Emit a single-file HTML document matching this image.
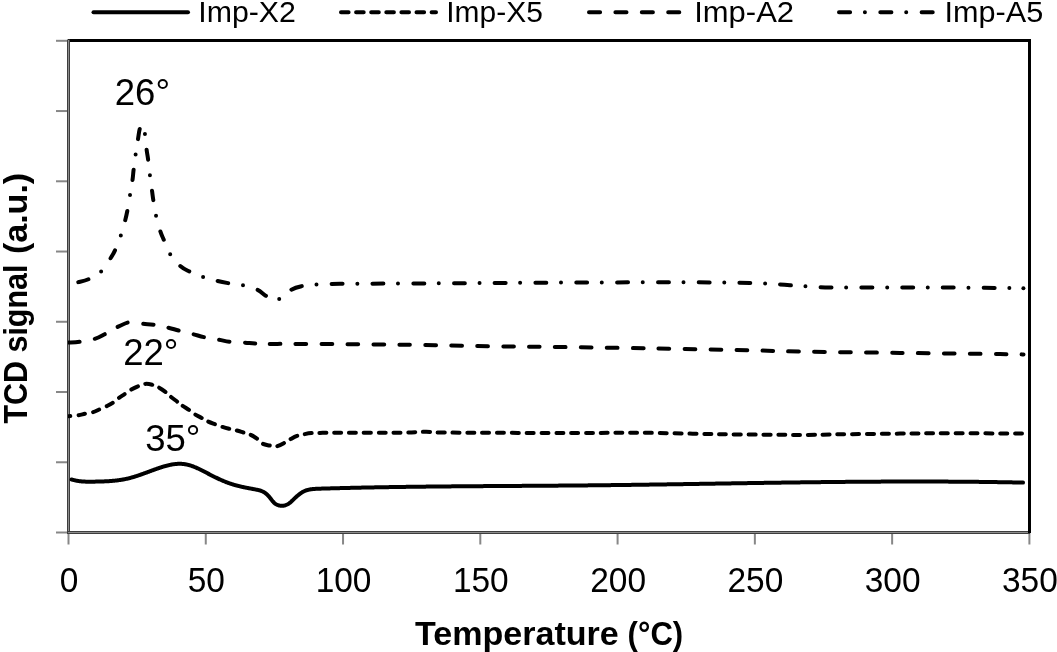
<!DOCTYPE html>
<html><head><meta charset="utf-8"><title>TCD chart</title>
<style>html,body{margin:0;padding:0;background:#fff;overflow:hidden;}svg{display:block;will-change:transform;}text{font-family:"Liberation Sans",sans-serif;fill:#000;}</style>
</head><body>
<svg width="1057" height="652" viewBox="0 0 1057 652">
<rect width="1057" height="652" fill="#fff"/>
<rect x="56" y="531.50" width="11.5" height="2" fill="#878787"/>
<rect x="56" y="461.26" width="11.5" height="2" fill="#878787"/>
<rect x="56" y="391.01" width="11.5" height="2" fill="#878787"/>
<rect x="56" y="320.77" width="11.5" height="2" fill="#878787"/>
<rect x="56" y="250.53" width="11.5" height="2" fill="#878787"/>
<rect x="56" y="180.29" width="11.5" height="2" fill="#878787"/>
<rect x="56" y="110.04" width="11.5" height="2" fill="#878787"/>
<rect x="56" y="39.80" width="11.5" height="2" fill="#878787"/>
<rect x="67.50" y="533" width="2" height="11.5" fill="#878787"/>
<rect x="204.77" y="533" width="2" height="11.5" fill="#878787"/>
<rect x="342.04" y="533" width="2" height="11.5" fill="#878787"/>
<rect x="479.31" y="533" width="2" height="11.5" fill="#878787"/>
<rect x="616.59" y="533" width="2" height="11.5" fill="#878787"/>
<rect x="753.86" y="533" width="2" height="11.5" fill="#878787"/>
<rect x="891.13" y="533" width="2" height="11.5" fill="#878787"/>
<rect x="1028.40" y="533" width="2" height="11.5" fill="#878787"/>
<rect x="68" y="39" width="963" height="3" fill="#000"/>
<rect x="67" y="39.5" width="3" height="494.5" fill="#3e3e3e"/>
<rect x="68" y="40" width="1" height="493" fill="#8c8c8c"/>
<rect x="67" y="531" width="963" height="3" fill="#3e3e3e"/>
<rect x="68" y="532" width="962" height="1" fill="#8c8c8c"/>
<rect x="1028" y="39" width="3" height="494" fill="#000"/>
<defs><clipPath id="pa"><rect x="68" y="40" width="961" height="492"/></clipPath></defs><g clip-path="url(#pa)">
<path id="X2" d="M71.60,479.48 L72.10,479.63 L72.60,479.78 L73.10,479.91 L73.60,480.05 L74.10,480.17 L74.60,480.29 L75.10,480.41 L75.60,480.51 L76.10,480.62 L76.60,480.71 L77.10,480.80 L77.60,480.89 L78.10,480.97 L78.60,481.04 L79.10,481.11 L79.60,481.18 L80.10,481.24 L80.60,481.30 L81.10,481.35 L81.60,481.40 L82.10,481.44 L82.60,481.48 L83.10,481.51 L83.60,481.55 L84.10,481.58 L84.60,481.60 L85.10,481.62 L85.60,481.64 L86.10,481.66 L86.60,481.67 L87.10,481.69 L87.60,481.69 L88.10,481.70 L88.60,481.71 L89.10,481.71 L89.60,481.71 L90.10,481.71 L90.60,481.70 L91.10,481.70 L91.60,481.70 L92.10,481.69 L92.60,481.68 L93.10,481.67 L93.60,481.66 L94.10,481.65 L94.60,481.64 L95.10,481.63 L95.60,481.62 L96.10,481.61 L96.60,481.60 L97.10,481.59 L97.60,481.58 L98.10,481.57 L98.60,481.56 L99.10,481.54 L99.60,481.53 L100.10,481.52 L100.60,481.50 L101.10,481.49 L101.60,481.47 L102.10,481.46 L102.60,481.44 L103.10,481.42 L103.60,481.40 L104.10,481.38 L104.60,481.36 L105.10,481.34 L105.60,481.32 L106.10,481.29 L106.60,481.27 L107.10,481.24 L107.60,481.22 L108.10,481.19 L108.60,481.16 L109.10,481.13 L109.60,481.09 L110.10,481.06 L110.60,481.02 L111.10,480.99 L111.60,480.95 L112.10,480.91 L112.60,480.86 L113.10,480.82 L113.60,480.77 L114.10,480.73 L114.60,480.68 L115.10,480.62 L115.60,480.57 L116.10,480.52 L116.60,480.46 L117.10,480.40 L117.60,480.34 L118.10,480.27 L118.60,480.21 L119.10,480.14 L119.60,480.07 L120.10,479.99 L120.60,479.92 L121.10,479.84 L121.60,479.76 L122.10,479.67 L122.60,479.59 L123.10,479.50 L123.60,479.41 L124.10,479.31 L124.60,479.22 L125.10,479.12 L125.60,479.01 L126.10,478.91 L126.60,478.80 L127.10,478.69 L127.60,478.57 L128.10,478.46 L128.60,478.34 L129.10,478.21 L129.60,478.08 L130.10,477.95 L130.60,477.82 L131.10,477.68 L131.60,477.55 L132.10,477.41 L132.60,477.26 L133.10,477.12 L133.60,476.97 L134.10,476.82 L134.60,476.66 L135.10,476.51 L135.60,476.35 L136.10,476.19 L136.60,476.03 L137.10,475.87 L137.60,475.70 L138.10,475.53 L138.60,475.37 L139.10,475.20 L139.60,475.02 L140.10,474.85 L140.60,474.68 L141.10,474.50 L141.60,474.32 L142.10,474.15 L142.60,473.97 L143.10,473.79 L143.60,473.61 L144.10,473.43 L144.60,473.24 L145.10,473.06 L145.60,472.88 L146.10,472.69 L146.60,472.51 L147.10,472.32 L147.60,472.14 L148.10,471.95 L148.60,471.77 L149.10,471.58 L149.60,471.40 L150.10,471.21 L150.60,471.03 L151.10,470.84 L151.60,470.66 L152.10,470.48 L152.60,470.29 L153.10,470.11 L153.60,469.93 L154.10,469.75 L154.60,469.57 L155.10,469.39 L155.60,469.21 L156.10,469.03 L156.60,468.85 L157.10,468.68 L157.60,468.50 L158.10,468.33 L158.60,468.16 L159.10,467.99 L159.60,467.82 L160.10,467.65 L160.60,467.49 L161.10,467.32 L161.60,467.16 L162.10,467.01 L162.60,466.85 L163.10,466.69 L163.60,466.54 L164.10,466.40 L164.60,466.25 L165.10,466.11 L165.60,465.97 L166.10,465.83 L166.60,465.70 L167.10,465.57 L167.60,465.44 L168.10,465.32 L168.60,465.20 L169.10,465.08 L169.60,464.97 L170.10,464.87 L170.60,464.77 L171.10,464.67 L171.60,464.57 L172.10,464.49 L172.60,464.40 L173.10,464.32 L173.60,464.25 L174.10,464.18 L174.60,464.12 L175.10,464.06 L175.60,464.01 L176.10,463.96 L176.60,463.92 L177.10,463.89 L177.60,463.86 L178.10,463.83 L178.60,463.82 L179.10,463.81 L179.60,463.80 L180.10,463.81 L180.60,463.82 L181.10,463.83 L181.60,463.86 L182.10,463.89 L182.60,463.93 L183.10,463.97 L183.60,464.03 L184.10,464.09 L184.60,464.16 L185.10,464.23 L185.60,464.32 L186.10,464.41 L186.60,464.51 L187.10,464.62 L187.60,464.73 L188.10,464.85 L188.60,464.98 L189.10,465.12 L189.60,465.26 L190.10,465.41 L190.60,465.56 L191.10,465.73 L191.60,465.89 L192.10,466.07 L192.60,466.24 L193.10,466.43 L193.60,466.62 L194.10,466.81 L194.60,467.01 L195.10,467.22 L195.60,467.43 L196.10,467.64 L196.60,467.86 L197.10,468.08 L197.60,468.31 L198.10,468.54 L198.60,468.77 L199.10,469.01 L199.60,469.25 L200.10,469.49 L200.60,469.74 L201.10,469.99 L201.60,470.24 L202.10,470.49 L202.60,470.74 L203.10,471.00 L203.60,471.26 L204.10,471.52 L204.60,471.78 L205.10,472.04 L205.60,472.30 L206.10,472.57 L206.60,472.83 L207.10,473.09 L207.60,473.36 L208.10,473.62 L208.60,473.88 L209.10,474.14 L209.60,474.40 L210.10,474.66 L210.60,474.92 L211.10,475.18 L211.60,475.44 L212.10,475.69 L212.60,475.94 L213.10,476.20 L213.60,476.45 L214.10,476.70 L214.60,476.94 L215.10,477.19 L215.60,477.43 L216.10,477.67 L216.60,477.91 L217.10,478.15 L217.60,478.39 L218.10,478.62 L218.60,478.86 L219.10,479.09 L219.60,479.32 L220.10,479.54 L220.60,479.77 L221.10,479.99 L221.60,480.21 L222.10,480.43 L222.60,480.64 L223.10,480.85 L223.60,481.06 L224.10,481.27 L224.60,481.48 L225.10,481.68 L225.60,481.88 L226.10,482.08 L226.60,482.27 L227.10,482.47 L227.60,482.66 L228.10,482.84 L228.60,483.03 L229.10,483.21 L229.60,483.38 L230.10,483.56 L230.60,483.73 L231.10,483.90 L231.60,484.06 L232.10,484.23 L232.60,484.39 L233.10,484.54 L233.60,484.69 L234.10,484.84 L234.60,484.99 L235.10,485.13 L235.60,485.27 L236.10,485.41 L236.60,485.54 L237.10,485.68 L237.60,485.81 L238.10,485.93 L238.60,486.06 L239.10,486.18 L239.60,486.30 L240.10,486.42 L240.60,486.53 L241.10,486.65 L241.60,486.76 L242.10,486.87 L242.60,486.98 L243.10,487.08 L243.60,487.19 L244.10,487.29 L244.60,487.39 L245.10,487.50 L245.60,487.60 L246.10,487.69 L246.60,487.79 L247.10,487.89 L247.60,487.99 L248.10,488.08 L248.60,488.18 L249.10,488.27 L249.60,488.36 L250.10,488.46 L250.60,488.55 L251.10,488.64 L251.60,488.74 L252.10,488.83 L252.60,488.92 L253.10,489.02 L253.60,489.11 L254.10,489.20 L254.60,489.30 L255.10,489.39 L255.60,489.49 L256.10,489.59 L256.60,489.68 L257.10,489.79 L257.60,489.89 L258.10,490.00 L258.60,490.12 L259.10,490.25 L259.60,490.39 L260.10,490.54 L260.60,490.70 L261.10,490.88 L261.60,491.07 L262.10,491.28 L262.60,491.51 L263.10,491.75 L263.60,492.02 L264.10,492.31 L264.60,492.62 L265.10,492.95 L265.60,493.31 L266.10,493.70 L266.60,494.12 L267.10,494.57 L267.60,495.05 L268.10,495.56 L268.60,496.10 L269.10,496.68 L269.60,497.29 L270.10,497.93 L270.60,498.57 L271.10,499.22 L271.60,499.87 L272.10,500.51 L272.60,501.12 L273.10,501.70 L273.60,502.25 L274.10,502.75 L274.60,503.20 L275.10,503.60 L275.60,503.95 L276.10,504.26 L276.60,504.53 L277.10,504.77 L277.60,504.97 L278.10,505.15 L278.60,505.31 L279.10,505.45 L279.60,505.56 L280.10,505.65 L280.60,505.72 L281.10,505.76 L281.60,505.78 L282.10,505.79 L282.60,505.76 L283.10,505.72 L283.60,505.65 L284.10,505.57 L284.60,505.46 L285.10,505.32 L285.60,505.16 L286.10,504.98 L286.60,504.77 L287.10,504.54 L287.60,504.28 L288.10,504.00 L288.60,503.69 L289.10,503.35 L289.60,502.99 L290.10,502.60 L290.60,502.18 L291.10,501.74 L291.60,501.28 L292.10,500.81 L292.60,500.33 L293.10,499.84 L293.60,499.35 L294.10,498.86 L294.60,498.38 L295.10,497.90 L295.60,497.43 L296.10,496.98 L296.60,496.53 L297.10,496.09 L297.60,495.66 L298.10,495.24 L298.60,494.84 L299.10,494.44 L299.60,494.06 L300.10,493.69 L300.60,493.33 L301.10,492.99 L301.60,492.67 L302.10,492.35 L302.60,492.06 L303.10,491.77 L303.60,491.51 L304.10,491.26 L304.60,491.03 L305.10,490.82 L305.60,490.62 L306.10,490.43 L306.60,490.26 L307.10,490.11 L307.60,489.96 L308.10,489.83 L308.60,489.71 L309.10,489.60 L309.60,489.50 L310.10,489.41 L310.60,489.33 L311.10,489.26 L311.60,489.19 L312.10,489.14 L312.60,489.08 L313.10,489.04 L313.60,488.99 L314.10,488.96 L314.60,488.92 L315.10,488.89 L315.60,488.86 L316.10,488.83 L316.60,488.81 L317.10,488.78 L317.60,488.76 L318.10,488.74 L318.60,488.72 L319.10,488.70 L319.60,488.68 L320.10,488.67 L320.60,488.65 L321.10,488.63 L321.60,488.62 L322.10,488.60 L322.60,488.59 L323.10,488.58 L323.60,488.56 L324.10,488.55 L324.60,488.53 L325.10,488.52 L325.60,488.50 L326.10,488.49 L326.60,488.48 L327.10,488.46 L327.60,488.45 L328.10,488.43 L328.60,488.42 L329.10,488.41 L329.60,488.39 L330.10,488.38 L330.60,488.36 L331.10,488.35 L331.60,488.34 L332.10,488.32 L332.60,488.31 L333.10,488.30 L333.60,488.28 L334.10,488.27 L334.60,488.26 L335.10,488.24 L335.60,488.23 L336.10,488.22 L336.60,488.21 L337.10,488.19 L337.60,488.18 L338.10,488.17 L338.60,488.15 L339.10,488.14 L339.60,488.13 L340.10,488.12 L340.60,488.10 L341.10,488.09 L341.60,488.08 L342.10,488.07 L342.60,488.05 L343.10,488.04 L343.60,488.03 L344.10,488.02 L344.60,488.01 L345.10,487.99 L345.60,487.98 L346.10,487.97 L346.60,487.96 L347.10,487.95 L347.60,487.93 L348.10,487.92 L348.60,487.91 L349.10,487.90 L349.60,487.89 L350.10,487.88 L350.60,487.86 L351.10,487.85 L351.60,487.84 L352.10,487.83 L352.60,487.82 L353.10,487.81 L353.60,487.80 L354.10,487.79 L354.60,487.77 L355.10,487.76 L355.60,487.75 L356.10,487.74 L356.60,487.73 L357.10,487.72 L357.60,487.71 L358.10,487.70 L358.60,487.69 L359.10,487.68 L359.60,487.67 L360.10,487.66 L360.60,487.65 L361.10,487.64 L361.60,487.62 L362.10,487.61 L362.60,487.60 L363.10,487.59 L363.60,487.58 L364.10,487.57 L364.60,487.56 L365.10,487.55 L365.60,487.54 L366.10,487.53 L366.60,487.52 L367.10,487.51 L367.60,487.50 L368.10,487.49 L368.60,487.48 L369.10,487.47 L369.60,487.46 L370.10,487.46 L370.60,487.45 L371.10,487.44 L371.60,487.43 L372.10,487.42 L372.60,487.41 L373.10,487.40 L373.60,487.39 L374.10,487.38 L374.60,487.37 L375.10,487.36 L375.60,487.35 L376.10,487.34 L376.60,487.33 L377.10,487.33 L377.60,487.32 L378.10,487.31 L378.60,487.30 L379.10,487.29 L379.60,487.28 L380.10,487.27 L380.60,487.26 L381.10,487.25 L381.60,487.25 L382.10,487.24 L382.60,487.23 L383.10,487.22 L383.60,487.21 L384.10,487.20 L384.60,487.20 L385.10,487.19 L385.60,487.18 L386.10,487.17 L386.60,487.16 L387.10,487.15 L387.60,487.15 L388.10,487.14 L388.60,487.13 L389.10,487.12 L389.60,487.11 L390.10,487.11 L390.60,487.10 L391.10,487.09 L391.60,487.08 L392.10,487.07 L392.60,487.07 L393.10,487.06 L393.60,487.05 L394.10,487.04 L394.60,487.04 L395.10,487.03 L395.60,487.02 L396.10,487.01 L396.60,487.01 L397.10,487.00 L397.60,486.99 L398.10,486.98 L398.60,486.98 L399.10,486.97 L399.60,486.96 L400.10,486.95 L400.60,486.95 L401.10,486.94 L401.60,486.93 L402.10,486.93 L402.60,486.92 L403.10,486.91 L403.60,486.90 L404.10,486.90 L404.60,486.89 L405.10,486.88 L405.60,486.88 L406.10,486.87 L406.60,486.86 L407.10,486.86 L407.60,486.85 L408.10,486.84 L408.60,486.84 L409.10,486.83 L409.60,486.82 L410.10,486.82 L410.60,486.81 L411.10,486.80 L411.60,486.80 L412.10,486.79 L412.60,486.79 L413.10,486.78 L413.60,486.77 L414.10,486.77 L414.60,486.76 L415.10,486.75 L415.60,486.75 L416.10,486.74 L416.60,486.74 L417.10,486.73 L417.60,486.72 L418.10,486.72 L418.60,486.71 L419.10,486.71 L419.60,486.70 L420.10,486.69 L420.60,486.69 L421.10,486.68 L421.60,486.68 L422.10,486.67 L422.60,486.66 L423.10,486.66 L423.60,486.65 L424.10,486.65 L424.60,486.64 L425.10,486.64 L425.60,486.63 L426.10,486.62 L426.60,486.62 L427.10,486.61 L427.60,486.61 L428.10,486.60 L428.60,486.60 L429.10,486.59 L429.60,486.59 L430.10,486.58 L430.60,486.58 L431.10,486.57 L431.60,486.56 L432.10,486.56 L432.60,486.55 L433.10,486.55 L433.60,486.54 L434.10,486.54 L434.60,486.53 L435.10,486.53 L435.60,486.52 L436.10,486.52 L436.60,486.51 L437.10,486.51 L437.60,486.50 L438.10,486.50 L438.60,486.49 L439.10,486.49 L439.60,486.48 L440.10,486.48 L440.60,486.47 L441.10,486.47 L441.60,486.46 L442.10,486.46 L442.60,486.45 L443.10,486.45 L443.60,486.44 L444.10,486.44 L444.60,486.44 L445.10,486.43 L445.60,486.43 L446.10,486.42 L446.60,486.42 L447.10,486.41 L447.60,486.41 L448.10,486.40 L448.60,486.40 L449.10,486.39 L449.60,486.39 L450.10,486.39 L450.60,486.38 L451.10,486.38 L451.60,486.37 L452.10,486.37 L452.60,486.36 L453.10,486.36 L453.60,486.35 L454.10,486.35 L454.60,486.35 L455.10,486.34 L455.60,486.34 L456.10,486.33 L456.60,486.33 L457.10,486.33 L457.60,486.32 L458.10,486.32 L458.60,486.31 L459.10,486.31 L459.60,486.30 L460.10,486.30 L460.60,486.30 L461.10,486.29 L461.60,486.29 L462.10,486.28 L462.60,486.28 L463.10,486.28 L463.60,486.27 L464.10,486.27 L464.60,486.26 L465.10,486.26 L465.60,486.26 L466.10,486.25 L466.60,486.25 L467.10,486.24 L467.60,486.24 L468.10,486.24 L468.60,486.23 L469.10,486.23 L469.60,486.23 L470.10,486.22 L470.60,486.22 L471.10,486.21 L471.60,486.21 L472.10,486.21 L472.60,486.20 L473.10,486.20 L473.60,486.20 L474.10,486.19 L474.60,486.19 L475.10,486.19 L475.60,486.18 L476.10,486.18 L476.60,486.17 L477.10,486.17 L477.60,486.17 L478.10,486.16 L478.60,486.16 L479.10,486.16 L479.60,486.15 L480.10,486.15 L480.60,486.15 L481.10,486.14 L481.60,486.14 L482.10,486.14 L482.60,486.13 L483.10,486.13 L483.60,486.12 L484.10,486.12 L484.60,486.12 L485.10,486.11 L485.60,486.11 L486.10,486.11 L486.60,486.10 L487.10,486.10 L487.60,486.10 L488.10,486.09 L488.60,486.09 L489.10,486.09 L489.60,486.08 L490.10,486.08 L490.60,486.08 L491.10,486.07 L491.60,486.07 L492.10,486.07 L492.60,486.06 L493.10,486.06 L493.60,486.06 L494.10,486.05 L494.60,486.05 L495.10,486.05 L495.60,486.04 L496.10,486.04 L496.60,486.04 L497.10,486.03 L497.60,486.03 L498.10,486.03 L498.60,486.02 L499.10,486.02 L499.60,486.02 L500.10,486.01 L500.60,486.01 L501.10,486.01 L501.60,486.01 L502.10,486.00 L502.60,486.00 L503.10,486.00 L503.60,485.99 L504.10,485.99 L504.60,485.99 L505.10,485.98 L505.60,485.98 L506.10,485.98 L506.60,485.97 L507.10,485.97 L507.60,485.97 L508.10,485.96 L508.60,485.96 L509.10,485.96 L509.60,485.95 L510.10,485.95 L510.60,485.95 L511.10,485.94 L511.60,485.94 L512.10,485.94 L512.60,485.93 L513.10,485.93 L513.60,485.93 L514.10,485.93 L514.60,485.92 L515.10,485.92 L515.60,485.92 L516.10,485.91 L516.60,485.91 L517.10,485.91 L517.60,485.90 L518.10,485.90 L518.60,485.90 L519.10,485.89 L519.60,485.89 L520.10,485.89 L520.60,485.88 L521.10,485.88 L521.60,485.88 L522.10,485.87 L522.60,485.87 L523.10,485.87 L523.60,485.86 L524.10,485.86 L524.60,485.86 L525.10,485.86 L525.60,485.85 L526.10,485.85 L526.60,485.85 L527.10,485.84 L527.60,485.84 L528.10,485.84 L528.60,485.83 L529.10,485.83 L529.60,485.83 L530.10,485.82 L530.60,485.82 L531.10,485.82 L531.60,485.81 L532.10,485.81 L532.60,485.81 L533.10,485.80 L533.60,485.80 L534.10,485.80 L534.60,485.79 L535.10,485.79 L535.60,485.79 L536.10,485.78 L536.60,485.78 L537.10,485.78 L537.60,485.77 L538.10,485.77 L538.60,485.77 L539.10,485.76 L539.60,485.76 L540.10,485.76 L540.60,485.75 L541.10,485.75 L541.60,485.75 L542.10,485.74 L542.60,485.74 L543.10,485.74 L543.60,485.73 L544.10,485.73 L544.60,485.73 L545.10,485.72 L545.60,485.72 L546.10,485.72 L546.60,485.71 L547.10,485.71 L547.60,485.71 L548.10,485.70 L548.60,485.70 L549.10,485.69 L549.60,485.69 L550.10,485.69 L550.60,485.68 L551.10,485.68 L551.60,485.68 L552.10,485.67 L552.60,485.67 L553.10,485.67 L553.60,485.66 L554.10,485.66 L554.60,485.65 L555.10,485.65 L555.60,485.65 L556.10,485.64 L556.60,485.64 L557.10,485.64 L557.60,485.63 L558.10,485.63 L558.60,485.62 L559.10,485.62 L559.60,485.62 L560.10,485.61 L560.60,485.61 L561.10,485.61 L561.60,485.60 L562.10,485.60 L562.60,485.59 L563.10,485.59 L563.60,485.59 L564.10,485.58 L564.60,485.58 L565.10,485.57 L565.60,485.57 L566.10,485.57 L566.60,485.56 L567.10,485.56 L567.60,485.55 L568.10,485.55 L568.60,485.55 L569.10,485.54 L569.60,485.54 L570.10,485.53 L570.60,485.53 L571.10,485.53 L571.60,485.52 L572.10,485.52 L572.60,485.51 L573.10,485.51 L573.60,485.50 L574.10,485.50 L574.60,485.50 L575.10,485.49 L575.60,485.49 L576.10,485.48 L576.60,485.48 L577.10,485.47 L577.60,485.47 L578.10,485.47 L578.60,485.46 L579.10,485.46 L579.60,485.45 L580.10,485.45 L580.60,485.44 L581.10,485.44 L581.60,485.43 L582.10,485.43 L582.60,485.42 L583.10,485.42 L583.60,485.41 L584.10,485.41 L584.60,485.41 L585.10,485.40 L585.60,485.40 L586.10,485.39 L586.60,485.39 L587.10,485.38 L587.60,485.38 L588.10,485.37 L588.60,485.37 L589.10,485.36 L589.60,485.36 L590.10,485.35 L590.60,485.35 L591.10,485.34 L591.60,485.34 L592.10,485.33 L592.60,485.33 L593.10,485.32 L593.60,485.32 L594.10,485.31 L594.60,485.31 L595.10,485.30 L595.60,485.30 L596.10,485.29 L596.60,485.29 L597.10,485.28 L597.60,485.28 L598.10,485.27 L598.60,485.26 L599.10,485.26 L599.60,485.25 L600.10,485.25 L600.60,485.24 L601.10,485.24 L601.60,485.23 L602.10,485.23 L602.60,485.22 L603.10,485.22 L603.60,485.21 L604.10,485.20 L604.60,485.20 L605.10,485.19 L605.60,485.19 L606.10,485.18 L606.60,485.18 L607.10,485.17 L607.60,485.16 L608.10,485.16 L608.60,485.15 L609.10,485.15 L609.60,485.14 L610.10,485.14 L610.60,485.13 L611.10,485.12 L611.60,485.12 L612.10,485.11 L612.60,485.11 L613.10,485.10 L613.60,485.09 L614.10,485.09 L614.60,485.08 L615.10,485.08 L615.60,485.07 L616.10,485.06 L616.60,485.06 L617.10,485.05 L617.60,485.05 L618.10,485.04 L618.60,485.03 L619.10,485.03 L619.60,485.02 L620.10,485.02 L620.60,485.01 L621.10,485.00 L621.60,485.00 L622.10,484.99 L622.60,484.98 L623.10,484.98 L623.60,484.97 L624.10,484.97 L624.60,484.96 L625.10,484.95 L625.60,484.95 L626.10,484.94 L626.60,484.93 L627.10,484.93 L627.60,484.92 L628.10,484.91 L628.60,484.91 L629.10,484.90 L629.60,484.89 L630.10,484.89 L630.60,484.88 L631.10,484.88 L631.60,484.87 L632.10,484.86 L632.60,484.86 L633.10,484.85 L633.60,484.84 L634.10,484.84 L634.60,484.83 L635.10,484.82 L635.60,484.82 L636.10,484.81 L636.60,484.80 L637.10,484.80 L637.60,484.79 L638.10,484.78 L638.60,484.78 L639.10,484.77 L639.60,484.76 L640.10,484.75 L640.60,484.75 L641.10,484.74 L641.60,484.73 L642.10,484.73 L642.60,484.72 L643.10,484.71 L643.60,484.71 L644.10,484.70 L644.60,484.69 L645.10,484.69 L645.60,484.68 L646.10,484.67 L646.60,484.66 L647.10,484.66 L647.60,484.65 L648.10,484.64 L648.60,484.64 L649.10,484.63 L649.60,484.62 L650.10,484.62 L650.60,484.61 L651.10,484.60 L651.60,484.59 L652.10,484.59 L652.60,484.58 L653.10,484.57 L653.60,484.57 L654.10,484.56 L654.60,484.55 L655.10,484.54 L655.60,484.54 L656.10,484.53 L656.60,484.52 L657.10,484.51 L657.60,484.51 L658.10,484.50 L658.60,484.49 L659.10,484.49 L659.60,484.48 L660.10,484.47 L660.60,484.46 L661.10,484.46 L661.60,484.45 L662.10,484.44 L662.60,484.43 L663.10,484.43 L663.60,484.42 L664.10,484.41 L664.60,484.40 L665.10,484.40 L665.60,484.39 L666.10,484.38 L666.60,484.38 L667.10,484.37 L667.60,484.36 L668.10,484.35 L668.60,484.35 L669.10,484.34 L669.60,484.33 L670.10,484.32 L670.60,484.32 L671.10,484.31 L671.60,484.30 L672.10,484.29 L672.60,484.29 L673.10,484.28 L673.60,484.27 L674.10,484.26 L674.60,484.26 L675.10,484.25 L675.60,484.24 L676.10,484.23 L676.60,484.22 L677.10,484.22 L677.60,484.21 L678.10,484.20 L678.60,484.19 L679.10,484.19 L679.60,484.18 L680.10,484.17 L680.60,484.16 L681.10,484.16 L681.60,484.15 L682.10,484.14 L682.60,484.13 L683.10,484.13 L683.60,484.12 L684.10,484.11 L684.60,484.10 L685.10,484.09 L685.60,484.09 L686.10,484.08 L686.60,484.07 L687.10,484.06 L687.60,484.06 L688.10,484.05 L688.60,484.04 L689.10,484.03 L689.60,484.03 L690.10,484.02 L690.60,484.01 L691.10,484.00 L691.60,483.99 L692.10,483.99 L692.60,483.98 L693.10,483.97 L693.60,483.96 L694.10,483.96 L694.60,483.95 L695.10,483.94 L695.60,483.93 L696.10,483.92 L696.60,483.92 L697.10,483.91 L697.60,483.90 L698.10,483.89 L698.60,483.89 L699.10,483.88 L699.60,483.87 L700.10,483.86 L700.60,483.85 L701.10,483.85 L701.60,483.84 L702.10,483.83 L702.60,483.82 L703.10,483.81 L703.60,483.81 L704.10,483.80 L704.60,483.79 L705.10,483.78 L705.60,483.78 L706.10,483.77 L706.60,483.76 L707.10,483.75 L707.60,483.74 L708.10,483.74 L708.60,483.73 L709.10,483.72 L709.60,483.71 L710.10,483.70 L710.60,483.70 L711.10,483.69 L711.60,483.68 L712.10,483.67 L712.60,483.67 L713.10,483.66 L713.60,483.65 L714.10,483.64 L714.60,483.63 L715.10,483.63 L715.60,483.62 L716.10,483.61 L716.60,483.60 L717.10,483.59 L717.60,483.59 L718.10,483.58 L718.60,483.57 L719.10,483.56 L719.60,483.56 L720.10,483.55 L720.60,483.54 L721.10,483.53 L721.60,483.52 L722.10,483.52 L722.60,483.51 L723.10,483.50 L723.60,483.49 L724.10,483.49 L724.60,483.48 L725.10,483.47 L725.60,483.46 L726.10,483.45 L726.60,483.45 L727.10,483.44 L727.60,483.43 L728.10,483.42 L728.60,483.41 L729.10,483.41 L729.60,483.40 L730.10,483.39 L730.60,483.38 L731.10,483.38 L731.60,483.37 L732.10,483.36 L732.60,483.35 L733.10,483.34 L733.60,483.34 L734.10,483.33 L734.60,483.32 L735.10,483.31 L735.60,483.31 L736.10,483.30 L736.60,483.29 L737.10,483.28 L737.60,483.27 L738.10,483.27 L738.60,483.26 L739.10,483.25 L739.60,483.24 L740.10,483.24 L740.60,483.23 L741.10,483.22 L741.60,483.21 L742.10,483.21 L742.60,483.20 L743.10,483.19 L743.60,483.18 L744.10,483.17 L744.60,483.17 L745.10,483.16 L745.60,483.15 L746.10,483.14 L746.60,483.14 L747.10,483.13 L747.60,483.12 L748.10,483.11 L748.60,483.11 L749.10,483.10 L749.60,483.09 L750.10,483.08 L750.60,483.08 L751.10,483.07 L751.60,483.06 L752.10,483.05 L752.60,483.05 L753.10,483.04 L753.60,483.03 L754.10,483.02 L754.60,483.02 L755.10,483.01 L755.60,483.00 L756.10,482.99 L756.60,482.99 L757.10,482.98 L757.60,482.97 L758.10,482.96 L758.60,482.96 L759.10,482.95 L759.60,482.94 L760.10,482.93 L760.60,482.93 L761.10,482.92 L761.60,482.91 L762.10,482.90 L762.60,482.90 L763.10,482.89 L763.60,482.88 L764.10,482.87 L764.60,482.87 L765.10,482.86 L765.60,482.85 L766.10,482.84 L766.60,482.84 L767.10,482.83 L767.60,482.82 L768.10,482.82 L768.60,482.81 L769.10,482.80 L769.60,482.79 L770.10,482.79 L770.60,482.78 L771.10,482.77 L771.60,482.76 L772.10,482.76 L772.60,482.75 L773.10,482.74 L773.60,482.74 L774.10,482.73 L774.60,482.72 L775.10,482.71 L775.60,482.71 L776.10,482.70 L776.60,482.69 L777.10,482.69 L777.60,482.68 L778.10,482.67 L778.60,482.67 L779.10,482.66 L779.60,482.65 L780.10,482.64 L780.60,482.64 L781.10,482.63 L781.60,482.62 L782.10,482.62 L782.60,482.61 L783.10,482.60 L783.60,482.60 L784.10,482.59 L784.60,482.58 L785.10,482.57 L785.60,482.57 L786.10,482.56 L786.60,482.55 L787.10,482.55 L787.60,482.54 L788.10,482.53 L788.60,482.53 L789.10,482.52 L789.60,482.51 L790.10,482.51 L790.60,482.50 L791.10,482.49 L791.60,482.49 L792.10,482.48 L792.60,482.47 L793.10,482.47 L793.60,482.46 L794.10,482.45 L794.60,482.45 L795.10,482.44 L795.60,482.43 L796.10,482.43 L796.60,482.42 L797.10,482.41 L797.60,482.41 L798.10,482.40 L798.60,482.39 L799.10,482.39 L799.60,482.38 L800.10,482.38 L800.60,482.37 L801.10,482.36 L801.60,482.36 L802.10,482.35 L802.60,482.34 L803.10,482.34 L803.60,482.33 L804.10,482.32 L804.60,482.32 L805.10,482.31 L805.60,482.31 L806.10,482.30 L806.60,482.29 L807.10,482.29 L807.60,482.28 L808.10,482.28 L808.60,482.27 L809.10,482.26 L809.60,482.26 L810.10,482.25 L810.60,482.25 L811.10,482.24 L811.60,482.23 L812.10,482.23 L812.60,482.22 L813.10,482.22 L813.60,482.21 L814.10,482.20 L814.60,482.20 L815.10,482.19 L815.60,482.19 L816.10,482.18 L816.60,482.17 L817.10,482.17 L817.60,482.16 L818.10,482.16 L818.60,482.15 L819.10,482.15 L819.60,482.14 L820.10,482.13 L820.60,482.13 L821.10,482.12 L821.60,482.12 L822.10,482.11 L822.60,482.11 L823.10,482.10 L823.60,482.09 L824.10,482.09 L824.60,482.08 L825.10,482.08 L825.60,482.07 L826.10,482.07 L826.60,482.06 L827.10,482.06 L827.60,482.05 L828.10,482.05 L828.60,482.04 L829.10,482.04 L829.60,482.03 L830.10,482.02 L830.60,482.02 L831.10,482.01 L831.60,482.01 L832.10,482.00 L832.60,482.00 L833.10,481.99 L833.60,481.99 L834.10,481.98 L834.60,481.98 L835.10,481.97 L835.60,481.97 L836.10,481.96 L836.60,481.96 L837.10,481.95 L837.60,481.95 L838.10,481.94 L838.60,481.94 L839.10,481.93 L839.60,481.93 L840.10,481.92 L840.60,481.92 L841.10,481.92 L841.60,481.91 L842.10,481.91 L842.60,481.90 L843.10,481.90 L843.60,481.89 L844.10,481.89 L844.60,481.88 L845.10,481.88 L845.60,481.87 L846.10,481.87 L846.60,481.86 L847.10,481.86 L847.60,481.86 L848.10,481.85 L848.60,481.85 L849.10,481.84 L849.60,481.84 L850.10,481.83 L850.60,481.83 L851.10,481.83 L851.60,481.82 L852.10,481.82 L852.60,481.81 L853.10,481.81 L853.60,481.81 L854.10,481.80 L854.60,481.80 L855.10,481.79 L855.60,481.79 L856.10,481.79 L856.60,481.78 L857.10,481.78 L857.60,481.77 L858.10,481.77 L858.60,481.77 L859.10,481.76 L859.60,481.76 L860.10,481.75 L860.60,481.75 L861.10,481.75 L861.60,481.74 L862.10,481.74 L862.60,481.74 L863.10,481.73 L863.60,481.73 L864.10,481.73 L864.60,481.72 L865.10,481.72 L865.60,481.72 L866.10,481.71 L866.60,481.71 L867.10,481.71 L867.60,481.70 L868.10,481.70 L868.60,481.70 L869.10,481.69 L869.60,481.69 L870.10,481.69 L870.60,481.68 L871.10,481.68 L871.60,481.68 L872.10,481.67 L872.60,481.67 L873.10,481.67 L873.60,481.66 L874.10,481.66 L874.60,481.66 L875.10,481.66 L875.60,481.65 L876.10,481.65 L876.60,481.65 L877.10,481.65 L877.60,481.64 L878.10,481.64 L878.60,481.64 L879.10,481.63 L879.60,481.63 L880.10,481.63 L880.60,481.63 L881.10,481.62 L881.60,481.62 L882.10,481.62 L882.60,481.62 L883.10,481.61 L883.60,481.61 L884.10,481.61 L884.60,481.61 L885.10,481.61 L885.60,481.60 L886.10,481.60 L886.60,481.60 L887.10,481.60 L887.60,481.60 L888.10,481.59 L888.60,481.59 L889.10,481.59 L889.60,481.59 L890.10,481.59 L890.60,481.58 L891.10,481.58 L891.60,481.58 L892.10,481.58 L892.60,481.58 L893.10,481.58 L893.60,481.57 L894.10,481.57 L894.60,481.57 L895.10,481.57 L895.60,481.57 L896.10,481.57 L896.60,481.56 L897.10,481.56 L897.60,481.56 L898.10,481.56 L898.60,481.56 L899.10,481.56 L899.60,481.56 L900.10,481.56 L900.60,481.55 L901.10,481.55 L901.60,481.55 L902.10,481.55 L902.60,481.55 L903.10,481.55 L903.60,481.55 L904.10,481.55 L904.60,481.55 L905.10,481.55 L905.60,481.54 L906.10,481.54 L906.60,481.54 L907.10,481.54 L907.60,481.54 L908.10,481.54 L908.60,481.54 L909.10,481.54 L909.60,481.54 L910.10,481.54 L910.60,481.54 L911.10,481.54 L911.60,481.54 L912.10,481.54 L912.60,481.54 L913.10,481.54 L913.60,481.54 L914.10,481.54 L914.60,481.54 L915.10,481.54 L915.60,481.54 L916.10,481.54 L916.60,481.54 L917.10,481.54 L917.60,481.54 L918.10,481.54 L918.60,481.54 L919.10,481.54 L919.60,481.54 L920.10,481.54 L920.60,481.54 L921.10,481.54 L921.60,481.54 L922.10,481.54 L922.60,481.54 L923.10,481.54 L923.60,481.54 L924.10,481.54 L924.60,481.54 L925.10,481.54 L925.60,481.54 L926.10,481.55 L926.60,481.55 L927.10,481.55 L927.60,481.55 L928.10,481.55 L928.60,481.55 L929.10,481.55 L929.60,481.55 L930.10,481.55 L930.60,481.55 L931.10,481.56 L931.60,481.56 L932.10,481.56 L932.60,481.56 L933.10,481.56 L933.60,481.56 L934.10,481.56 L934.60,481.57 L935.10,481.57 L935.60,481.57 L936.10,481.57 L936.60,481.57 L937.10,481.57 L937.60,481.58 L938.10,481.58 L938.60,481.58 L939.10,481.58 L939.60,481.58 L940.10,481.58 L940.60,481.59 L941.10,481.59 L941.60,481.59 L942.10,481.59 L942.60,481.60 L943.10,481.60 L943.60,481.60 L944.10,481.60 L944.60,481.60 L945.10,481.61 L945.60,481.61 L946.10,481.61 L946.60,481.61 L947.10,481.62 L947.60,481.62 L948.10,481.62 L948.60,481.63 L949.10,481.63 L949.60,481.63 L950.10,481.63 L950.60,481.64 L951.10,481.64 L951.60,481.64 L952.10,481.65 L952.60,481.65 L953.10,481.65 L953.60,481.65 L954.10,481.66 L954.60,481.66 L955.10,481.66 L955.60,481.67 L956.10,481.67 L956.60,481.68 L957.10,481.68 L957.60,481.68 L958.10,481.69 L958.60,481.69 L959.10,481.69 L959.60,481.70 L960.10,481.70 L960.60,481.70 L961.10,481.71 L961.60,481.71 L962.10,481.72 L962.60,481.72 L963.10,481.72 L963.60,481.73 L964.10,481.73 L964.60,481.74 L965.10,481.74 L965.60,481.75 L966.10,481.75 L966.60,481.75 L967.10,481.76 L967.60,481.76 L968.10,481.77 L968.60,481.77 L969.10,481.78 L969.60,481.78 L970.10,481.79 L970.60,481.79 L971.10,481.80 L971.60,481.80 L972.10,481.81 L972.60,481.81 L973.10,481.82 L973.60,481.82 L974.10,481.83 L974.60,481.83 L975.10,481.84 L975.60,481.84 L976.10,481.85 L976.60,481.85 L977.10,481.86 L977.60,481.86 L978.10,481.87 L978.60,481.87 L979.10,481.88 L979.60,481.89 L980.10,481.89 L980.60,481.90 L981.10,481.90 L981.60,481.91 L982.10,481.92 L982.60,481.92 L983.10,481.93 L983.60,481.93 L984.10,481.94 L984.60,481.95 L985.10,481.95 L985.60,481.96 L986.10,481.97 L986.60,481.97 L987.10,481.98 L987.60,481.98 L988.10,481.99 L988.60,482.00 L989.10,482.00 L989.60,482.01 L990.10,482.02 L990.60,482.02 L991.10,482.03 L991.60,482.04 L992.10,482.05 L992.60,482.05 L993.10,482.06 L993.60,482.07 L994.10,482.07 L994.60,482.08 L995.10,482.09 L995.60,482.10 L996.10,482.10 L996.60,482.11 L997.10,482.12 L997.60,482.13 L998.10,482.13 L998.60,482.14 L999.10,482.15 L999.60,482.16 L1000.10,482.17 L1000.60,482.17 L1001.10,482.18 L1001.60,482.19 L1002.10,482.20 L1002.60,482.21 L1003.10,482.21 L1003.60,482.22 L1004.10,482.23 L1004.60,482.24 L1005.10,482.25 L1005.60,482.26 L1006.10,482.26 L1006.60,482.27 L1007.10,482.28 L1007.60,482.29 L1008.10,482.30 L1008.60,482.31 L1009.10,482.32 L1009.60,482.33 L1010.10,482.33 L1010.60,482.34 L1011.10,482.35 L1011.60,482.36 L1012.10,482.37 L1012.60,482.38 L1013.10,482.39 L1013.60,482.40 L1014.10,482.41 L1014.60,482.42 L1015.10,482.43 L1015.60,482.44 L1016.10,482.45 L1016.60,482.46 L1017.10,482.47 L1017.60,482.48 L1018.10,482.49 L1018.60,482.50 L1019.10,482.51 L1019.60,482.52 L1020.10,482.53 L1020.60,482.54 L1021.10,482.55 L1021.60,482.56 L1022.10,482.57 L1022.60,482.58 L1023.00,482.59" fill="none" stroke="#000" stroke-width="4.00" stroke-linecap="round" stroke-linejoin="round"/>
<path id="X5" d="M68.80,416.20 C69.05,416.18 68.67,416.27 70.30,416.10 C71.93,415.93 76.17,415.58 78.60,415.20 C81.03,414.82 82.48,414.32 84.90,413.80 C87.32,413.28 90.73,412.82 93.10,412.10 C95.47,411.38 96.83,410.50 99.10,409.50 C101.37,408.50 104.43,407.22 106.70,406.10 C108.97,404.98 110.65,404.17 112.70,402.80 C114.75,401.43 117.02,399.33 119.00,397.90 C120.98,396.47 122.55,395.58 124.60,394.20 C126.65,392.82 129.08,390.92 131.30,389.60 C133.52,388.28 135.58,387.25 137.90,386.30 C140.22,385.35 142.82,384.15 145.20,383.90 C147.58,383.65 149.88,384.18 152.20,384.80 C154.52,385.42 156.90,386.42 159.10,387.60 C161.30,388.78 163.42,390.35 165.40,391.90 C167.38,393.45 169.07,395.30 171.00,396.90 C172.93,398.50 175.07,400.02 177.00,401.50 C178.93,402.98 180.62,404.42 182.60,405.80 C184.58,407.18 186.78,408.33 188.90,409.80 C191.02,411.27 193.18,413.25 195.30,414.60 C197.42,415.95 199.45,416.73 201.60,417.90 C203.75,419.07 206.00,420.55 208.20,421.60 C210.40,422.65 212.43,423.32 214.80,424.20 C217.17,425.08 220.02,426.13 222.40,426.90 C224.78,427.67 226.72,428.20 229.10,428.80 C231.48,429.40 234.33,429.88 236.70,430.50 C239.07,431.12 240.98,431.78 243.30,432.50 C245.62,433.22 248.33,433.78 250.60,434.80 C252.87,435.82 254.85,437.10 256.90,438.60 C258.95,440.10 260.80,442.65 262.90,443.80 C265.00,444.95 267.75,445.07 269.50,445.50 C271.25,445.93 272.12,446.28 273.40,446.40 C274.68,446.52 275.47,446.73 277.20,446.20 C278.93,445.67 281.60,444.37 283.80,443.20 C286.00,442.03 288.20,440.42 290.40,439.20 C292.60,437.98 294.68,436.73 297.00,435.90 C299.32,435.07 301.92,434.67 304.30,434.20 C306.68,433.73 308.68,433.32 311.30,433.10 C313.92,432.88 315.22,432.97 320.00,432.90 C324.78,432.83 326.67,432.73 340.00,432.70 C353.33,432.67 385.67,432.85 400.00,432.70 C414.33,432.55 417.67,431.82 426.00,431.80 C434.33,431.78 424.33,432.40 450.00,432.60 C475.67,432.80 548.33,432.98 580.00,433.00 C611.67,433.02 616.67,432.50 640.00,432.70 C663.33,432.90 693.33,433.83 720.00,434.20 C746.67,434.57 780.00,434.88 800.00,434.90 C820.00,434.92 823.33,434.52 840.00,434.30 C856.67,434.08 881.67,433.78 900.00,433.60 C918.33,433.42 929.67,433.20 950.00,433.20 C970.33,433.20 1010.00,433.53 1022.00,433.60" fill="none" stroke="#000" stroke-width="4.00" stroke-linecap="round" stroke-linejoin="round" stroke-dasharray="1.51 8.35 6.46 8.38 6.55 8.33 6.85 7.98 6.71 8.13 7.39 7.71 7.10 7.46 7.64 7.51 7.56 7.06 7.46 8.00 7.12 7.57 7.10 8.07 6.97 7.79 6.90 7.66 7.37 7.96 6.85 7.85 7.26 7.72 7.39 7.70 7.00 7.80 7.00 7.80 7.00 7.80 7.00 7.80 7.00 7.80 7.00 7.80 7.00 7.80 7.00 7.80 7.00 7.80 7.00 7.80 7.00 7.80 7.00 7.80 7.00 7.80 7.00 7.80 7.00 7.80 7.00 7.80 7.00 7.80 7.00 7.80 7.00 7.80 7.00 7.80 7.00 7.80 7.00 7.80 7.00 7.80 7.00 7.80 7.00 7.80 7.00 7.80 7.00 7.80 7.00 7.80 7.00 7.80 7.00 7.80 7.00 7.80 7.00 7.80 7.00 7.80 7.00 7.80 7.00 7.80 7.00 7.80 7.00 7.80 7.00 7.80 7.00 7.80 7.00 7.80 7.00 7.80 7.00 7.80 7.00 7.80 7.00 7.80 7.00 7.80 7.00 7.80 7.00 7.80 7.00 7.80 7.00 50.28" stroke-dashoffset="0.00"/>
<path id="A2" d="M68.60,342.60 C70.43,342.47 75.23,342.43 79.60,341.80 C83.97,341.17 90.62,340.07 94.80,338.80 C98.98,337.53 100.90,336.18 104.70,334.20 C108.50,332.22 113.78,328.83 117.60,326.90 C121.42,324.97 124.70,323.43 127.60,322.60 C130.50,321.77 132.40,321.70 135.00,321.90 C137.60,322.10 140.12,323.33 143.20,323.80 C146.28,324.27 149.30,324.05 153.50,324.70 C157.70,325.35 164.22,326.73 168.40,327.70 C172.58,328.67 174.40,329.40 178.60,330.50 C182.80,331.60 189.38,333.20 193.60,334.30 C197.82,335.40 199.65,336.20 203.90,337.10 C208.15,338.00 214.85,338.93 219.10,339.70 C223.35,340.47 225.08,341.20 229.40,341.70 C233.72,342.20 240.70,342.40 245.00,342.70 C249.30,343.00 251.03,343.30 255.20,343.50 C259.37,343.70 262.53,343.83 270.00,343.90 C277.47,343.97 278.33,343.77 300.00,343.90 C321.67,344.03 366.67,344.28 400.00,344.70 C433.33,345.12 475.00,346.03 500.00,346.40 C525.00,346.77 525.00,346.57 550.00,346.90 C575.00,347.23 616.67,347.83 650.00,348.40 C683.33,348.97 725.00,349.77 750.00,350.30 C775.00,350.83 775.00,351.17 800.00,351.60 C825.00,352.03 866.67,352.48 900.00,352.90 C933.33,353.32 979.42,353.85 1000.00,354.10 C1020.58,354.35 1019.58,354.35 1023.50,354.40" fill="none" stroke="#000" stroke-width="4.00" stroke-linecap="round" stroke-linejoin="round" stroke-dasharray="11.03 15.51 10.94 14.82 10.90 15.91 10.34 15.20 10.58 15.47 10.68 15.42 10.50 15.63 10.23 14.52 10.70 15.23 10.70 15.23 10.70 15.23 10.70 15.23 10.70 15.23 10.70 15.23 10.70 15.23 10.70 15.23 10.70 15.23 10.70 15.23 10.70 15.23 10.70 15.23 10.70 15.23 10.70 15.23 10.70 15.23 10.70 15.23 10.70 15.23 10.70 15.23 10.70 15.23 10.70 15.23 10.70 15.23 10.70 15.23 10.70 15.23 10.70 15.23 10.70 15.23 10.70 15.23 10.70 15.23 10.70 15.23 10.70 15.23 1.90 50.00" stroke-dashoffset="0.00"/>
<path id="A5" d="M78.30,282.10 C79.98,281.63 84.60,281.08 88.40,279.30 C92.20,277.52 97.42,274.90 101.10,271.40 C104.78,267.90 108.18,261.82 110.50,258.30 C112.82,254.78 113.28,254.08 115.00,250.30 C116.72,246.52 119.10,240.62 120.80,235.60 C122.50,230.58 124.12,224.30 125.20,220.20 C126.28,216.10 126.50,215.18 127.30,211.00 C128.10,206.82 129.13,200.25 130.00,195.10 C130.87,189.95 131.90,184.32 132.50,180.10 C133.10,175.88 133.08,174.07 133.60,169.80 C134.12,165.53 134.87,159.60 135.60,154.50 C136.33,149.40 137.32,143.45 138.00,139.20 C138.68,134.95 139.03,131.42 139.70,129.00 C140.37,126.58 141.13,123.90 142.00,124.70 C142.87,125.50 144.13,129.67 144.90,133.80 C145.67,137.93 146.07,145.22 146.60,149.50 C147.13,153.78 147.55,155.25 148.10,159.50 C148.65,163.75 149.25,169.83 149.90,175.00 C150.55,180.17 151.43,186.33 152.00,190.50 C152.57,194.67 152.63,195.80 153.30,200.00 C153.97,204.20 154.83,210.48 156.00,215.70 C157.17,220.92 159.02,227.32 160.30,231.30 C161.58,235.28 162.07,235.80 163.70,239.60 C165.33,243.40 167.37,249.72 170.10,254.10 C172.83,258.48 176.93,263.03 180.10,265.90 C183.27,268.77 185.30,269.45 189.10,271.30 C192.90,273.15 198.18,275.38 202.90,277.00 C207.62,278.62 213.22,279.98 217.40,281.00 C221.58,282.02 223.77,282.40 228.00,283.10 C232.23,283.80 237.90,284.08 242.80,285.20 C247.70,286.32 253.58,288.05 257.40,289.80 C261.22,291.55 263.18,294.27 265.70,295.70 C268.22,297.13 270.28,297.85 272.50,298.40 C274.72,298.95 275.90,300.43 279.00,299.00 C282.10,297.57 287.35,291.93 291.10,289.80 C294.85,287.67 297.33,287.08 301.50,286.20 C305.67,285.32 309.68,284.90 316.10,284.50 C322.52,284.10 321.02,283.98 340.00,283.80 C358.98,283.62 396.67,283.58 430.00,283.40 C463.33,283.22 498.33,282.88 540.00,282.70 C581.67,282.52 645.00,282.25 680.00,282.30 C715.00,282.35 733.33,282.63 750.00,283.00 C766.67,283.37 771.67,284.02 780.00,284.50 C788.33,284.98 791.67,285.42 800.00,285.90 C808.33,286.38 813.33,287.12 830.00,287.40 C846.67,287.68 878.33,287.57 900.00,287.60 C921.67,287.63 939.42,287.50 960.00,287.60 C980.58,287.70 1012.92,288.10 1023.50,288.20" fill="none" stroke="#000" stroke-width="4.00" stroke-linecap="round" stroke-linejoin="round" stroke-dasharray="10.51 15.02 0.00 16.16 9.19 15.81 0.00 16.02 9.44 16.13 0.00 15.21 10.36 15.43 0.00 15.49 10.35 14.98 0.00 15.80 10.11 15.60 0.00 15.64 9.59 15.93 0.00 16.19 8.98 15.87 0.00 15.51 10.55 14.94 0.00 15.05 10.81 14.95 0.00 15.33 10.22 14.14 0.00 15.23 11.06 14.71 0.00 15.42 10.95 14.60 0.00 15.20 10.95 14.60 0.00 15.20 10.95 14.60 0.00 15.20 10.95 14.60 0.00 15.20 10.95 14.60 0.00 15.20 10.95 14.60 0.00 15.20 10.95 14.60 0.00 15.20 10.95 14.60 0.00 15.20 10.95 14.60 0.00 15.20 10.95 14.60 0.00 15.20 10.95 14.60 0.00 15.20 10.95 14.60 0.00 15.20 10.95 14.60 0.00 15.20 10.95 14.60 0.00 15.20 10.95 14.60 0.00 15.20 10.95 14.60 0.00 15.20 10.95 14.60 0.00 64.60" stroke-dashoffset="0.00"/>
<circle cx="1023.4" cy="288.2" r="2" fill="#000"/>
</g>
<text transform="translate(69.00,592.00) scale(0.9700,1)" font-family="Liberation Sans, sans-serif" font-size="34.50" text-anchor="middle">0</text>
<text transform="translate(206.27,592.00) scale(0.9700,1)" font-family="Liberation Sans, sans-serif" font-size="34.50" text-anchor="middle">50</text>
<text transform="translate(343.54,592.00) scale(0.9700,1)" font-family="Liberation Sans, sans-serif" font-size="34.50" text-anchor="middle">100</text>
<text transform="translate(480.81,592.00) scale(0.9700,1)" font-family="Liberation Sans, sans-serif" font-size="34.50" text-anchor="middle">150</text>
<text transform="translate(618.09,592.00) scale(0.9700,1)" font-family="Liberation Sans, sans-serif" font-size="34.50" text-anchor="middle">200</text>
<text transform="translate(755.36,592.00) scale(0.9700,1)" font-family="Liberation Sans, sans-serif" font-size="34.50" text-anchor="middle">250</text>
<text transform="translate(892.63,592.00) scale(0.9700,1)" font-family="Liberation Sans, sans-serif" font-size="34.50" text-anchor="middle">300</text>
<text transform="translate(1029.90,592.00) scale(0.9700,1)" font-family="Liberation Sans, sans-serif" font-size="34.50" text-anchor="middle">350</text>
<text transform="translate(414.90,644.80) scale(1.0330,1)" font-family="Liberation Sans, sans-serif" font-size="33.00" text-anchor="start" font-weight="bold">Temperature</text>
<text transform="translate(627.60,644.80) scale(0.9420,1)" font-family="Liberation Sans, sans-serif" font-size="33.00" text-anchor="start" font-weight="bold">(°C)</text>
<text transform="translate(27.30,423.60) rotate(-90) scale(0.9230,1)" font-family="Liberation Sans, sans-serif" font-size="33.00" text-anchor="start" font-weight="bold">TCD signal</text>
<text transform="translate(27.30,254.10) rotate(-90) scale(1.0320,1)" font-family="Liberation Sans, sans-serif" font-size="33.00" text-anchor="start" font-weight="bold">(a.u.)</text>
<text transform="translate(114.80,104.80) scale(1.0000,1)" font-family="Liberation Sans, sans-serif" font-size="36.50" text-anchor="start">26°</text>
<text transform="translate(123.20,364.80) scale(1.0000,1)" font-family="Liberation Sans, sans-serif" font-size="36.50" text-anchor="start">22°</text>
<text transform="translate(145.20,451.10) scale(1.0000,1)" font-family="Liberation Sans, sans-serif" font-size="36.50" text-anchor="start">35°</text>
<line x1="93.5" y1="12.2" x2="188" y2="12.2" stroke="#000" stroke-width="4.00" stroke-linecap="round"/>
<line x1="341" y1="12.2" x2="436" y2="12.2" stroke="#000" stroke-width="4.00" stroke-linecap="round" stroke-dasharray="7.6 7.5"/>
<line x1="589" y1="12.2" x2="679.5" y2="12.2" stroke="#000" stroke-width="4.00" stroke-linecap="round" stroke-dasharray="11.1 15.3"/>
<line x1="839" y1="12.2" x2="933" y2="12.2" stroke="#000" stroke-width="4.00" stroke-linecap="round" stroke-dasharray="11.1 14.8 0.01 15.4"/>
<text transform="translate(198.30,22.30) scale(1.0270,1)" font-family="Liberation Sans, sans-serif" font-size="29.50" text-anchor="start">Imp-X2</text>
<text transform="translate(446.30,22.30) scale(1.0150,1)" font-family="Liberation Sans, sans-serif" font-size="29.50" text-anchor="start">Imp-X5</text>
<text transform="translate(694.20,22.30) scale(1.0500,1)" font-family="Liberation Sans, sans-serif" font-size="29.50" text-anchor="start">Imp-A2</text>
<text transform="translate(944.40,22.30) scale(1.0390,1)" font-family="Liberation Sans, sans-serif" font-size="29.50" text-anchor="start">Imp-A5</text>
</svg>
</body></html>
